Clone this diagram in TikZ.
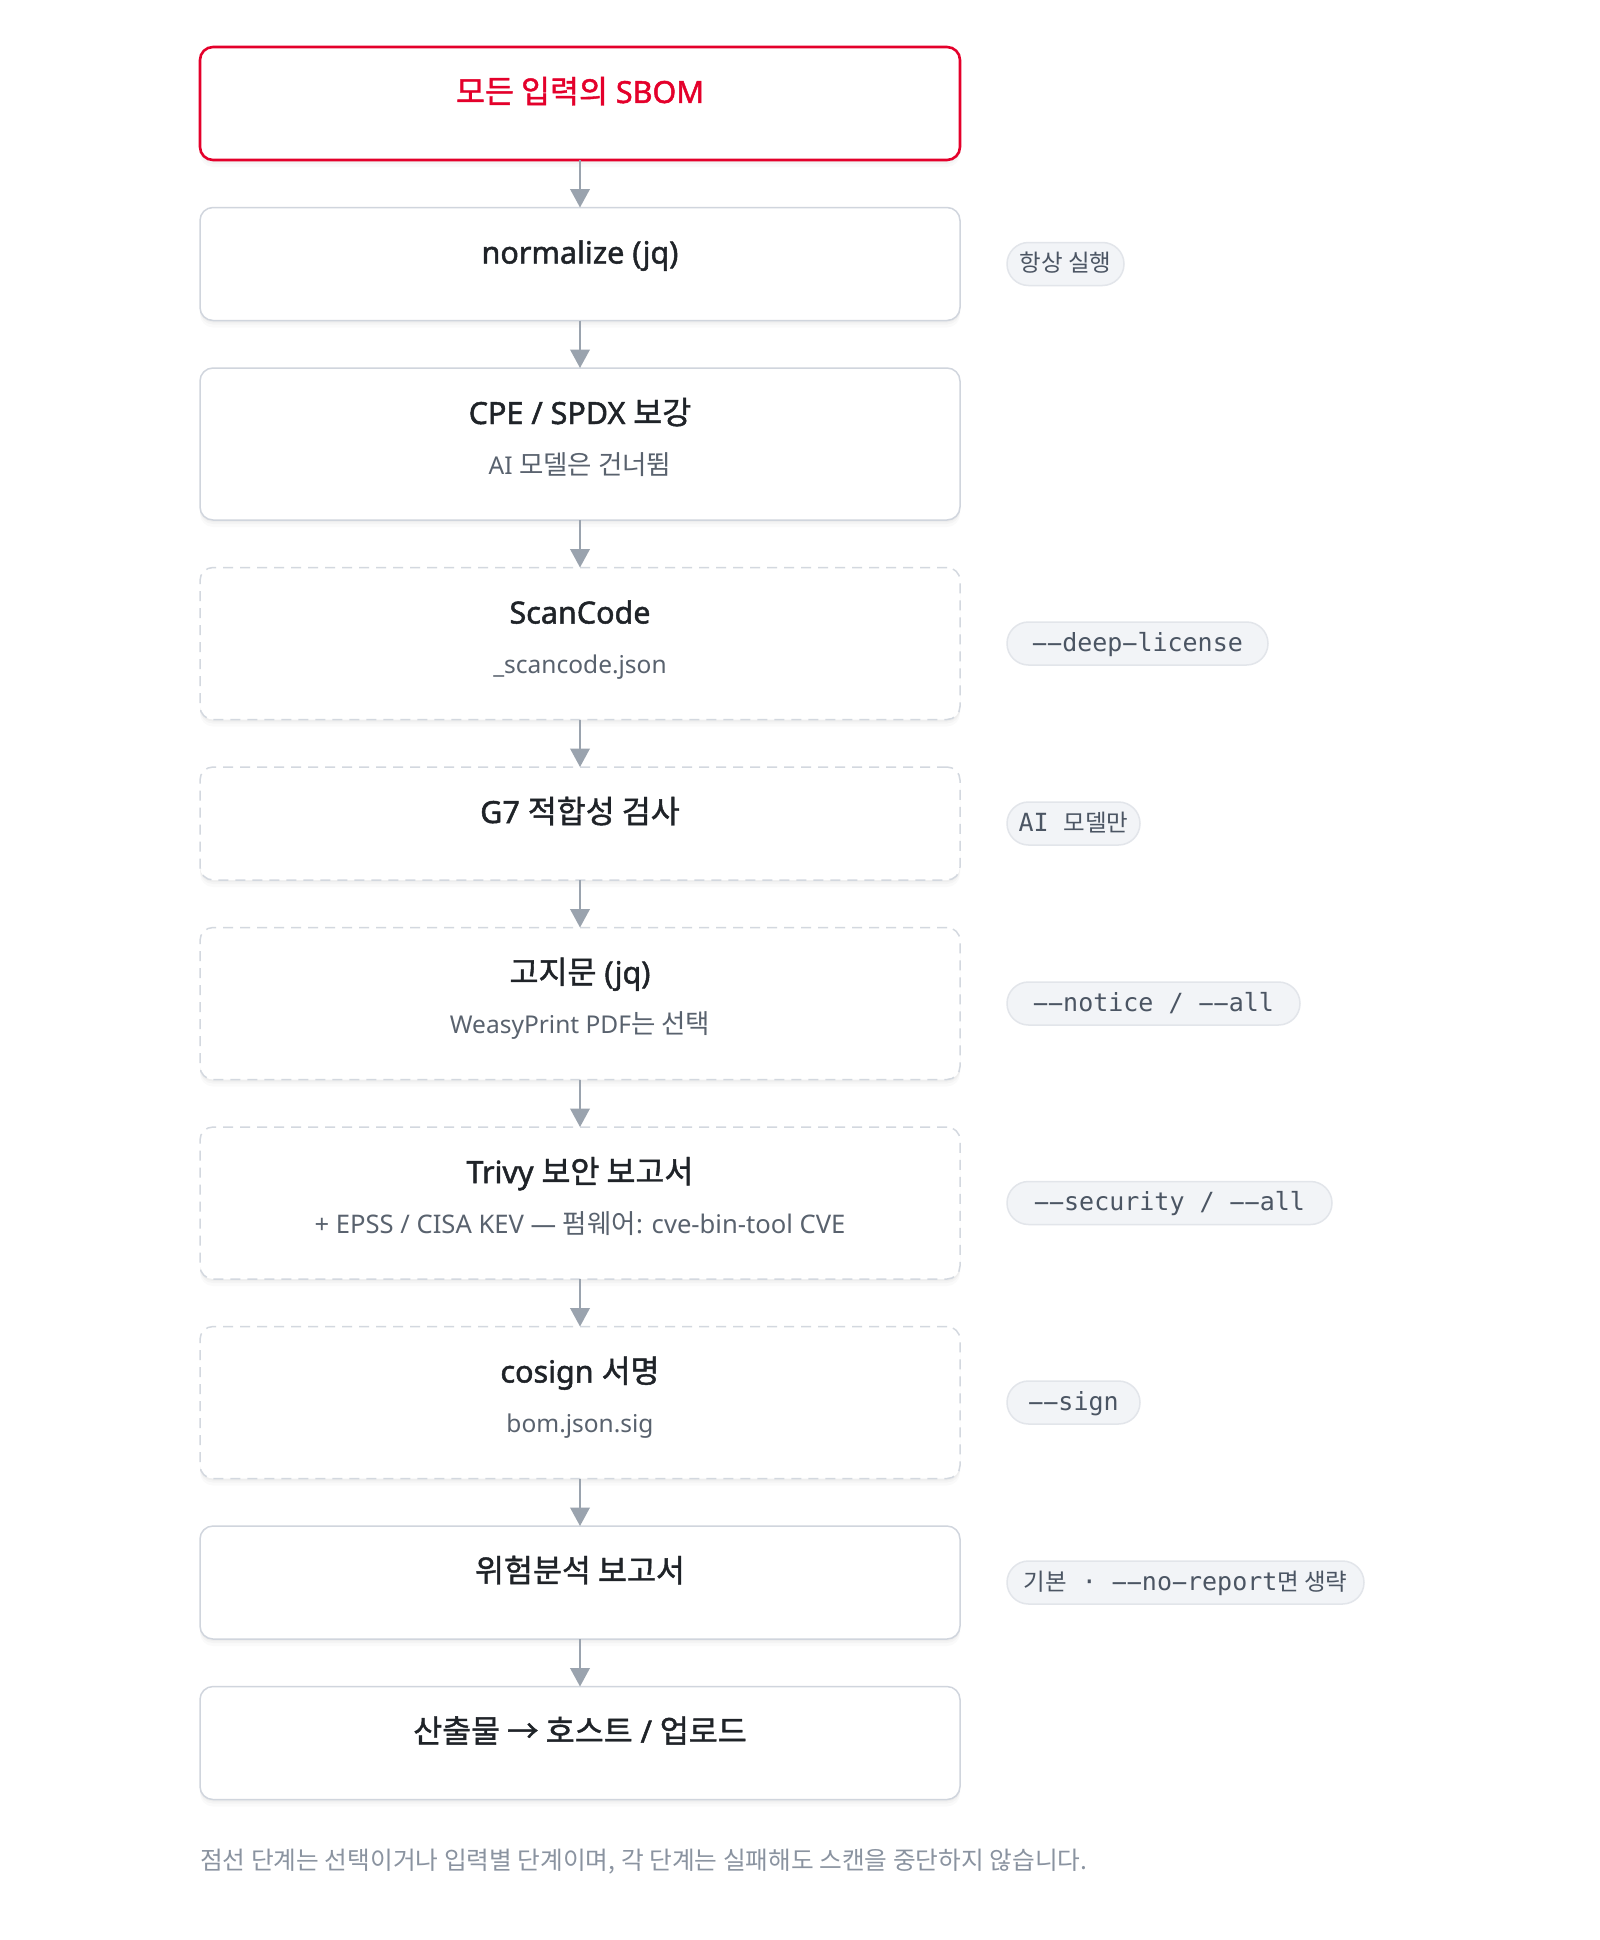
\documentclass[tikz,border=0pt]{standalone}
\usepackage{graphicx}
\usepackage{fontspec}
\setmainfont{Noto Sans}
\setmonofont{DejaVu Sans Mono}
\newfontfamily\krfont{Noto Sans CJK KR}
\newfontfamily\titlefont{Noto Sans}[FakeBold=1.6]
\newfontfamily\krtitle{Noto Sans CJK KR}[FakeBold=1.3]
\usetikzlibrary{arrows.meta}
\def\krswitch{\krfont}
\newcommand\krt[1]{{\krswitch #1}}
% monospaced hyphen drawn as the reference's full-cell dash
\newcommand\hy{\makebox[0.602em][c]{\scalebox{2.1}[1]{-}}}

\definecolor{accent}{HTML}{E4002B}
\definecolor{boxline}{HTML}{D0D5DD}
\definecolor{dashline}{HTML}{D3D8DF}
\definecolor{arrowc}{HTML}{9AA3AE}
\definecolor{titlec}{HTML}{1F2328}
\definecolor{subc}{HTML}{59626E}
\definecolor{pillfill}{HTML}{F2F4F7}
\definecolor{pillline}{HTML}{E2E5EA}
\definecolor{pilltext}{HTML}{4B5563}
\definecolor{footc}{HTML}{8A93A0}

\tikzset{
  shadowed/.style={
    preaction={draw=none, fill=black, fill opacity=0.025, transform canvas={yshift=-2pt}},
    preaction={draw=none, fill=black, fill opacity=0.025, transform canvas={yshift=-4pt}},
    preaction={draw=none, fill=black, fill opacity=0.02, transform canvas={yshift=-7pt}}},
  stepbox/.style={shadowed, draw=boxline, line width=1.5pt, fill=white,
    rounded corners=13pt, minimum width=760pt, inner sep=0pt, outer sep=0pt, anchor=north},
  optbox/.style={stepbox, draw=dashline, dash pattern=on 10pt off 7pt},
  topbox/.style={stepbox, draw=accent, line width=2.6pt},
  shortbox/.style={minimum height=113pt},
  tallbox/.style={minimum height=152pt},
  titletext/.style={anchor=base, inner sep=0pt, text=titlec,
    font=\titlefont\fontsize{30.5}{36}\selectfont\def\krswitch{\krtitle\fontsize{31.5}{36}\selectfont}},
  subtext/.style={anchor=base, inner sep=0pt, text=subc,
    font=\fontsize{24.5}{29}\selectfont\def\krswitch{\krfont\fontsize{26.5}{30}\selectfont}},
  widesub/.style={font=\fontsize{25.6}{30}\selectfont\def\krswitch{\krfont\fontsize{26.5}{30}\selectfont}},
  arr/.style={draw=arrowc, line width=2.2pt, -{Triangle[length=18.5pt, width=19.5pt]}},
  pill/.style={draw=pillline, line width=1.5pt, fill=pillfill, rounded corners=21.5pt,
    minimum height=43pt, inner sep=0pt, outer sep=0pt, anchor=west, text=pilltext,
    text height=20pt, text depth=5pt, align=center,
    font=\ttfamily\fontsize{25}{30}\selectfont\def\krswitch{\krfont\fontsize{23.5}{28}\selectfont}},
  pillsans/.style={pill, font=\krfont\fontsize{23.5}{28}\selectfont},
  foot/.style={anchor=base west, inner sep=0pt, text=footc,
    font=\krfont\fontsize{24.7}{29}\selectfont}
}

\begin{document}
\begin{tikzpicture}[x=1pt, y=-1pt]
\fill[white] (0,0) rectangle (1600,1940);
\useasboundingbox (0,0) rectangle (1600,1940);

% boxes
\node[topbox, shortbox] (b1) at (580,47) {};
\node[stepbox, shortbox] (b2) at (580,207.5) {};
\node[stepbox, tallbox] (b3) at (580,368) {};
\node[optbox, tallbox] (b4) at (580,567.5) {};
\node[optbox, shortbox] (b5) at (580,767) {};
\node[optbox, tallbox] (b6) at (580,927.5) {};
\node[optbox, tallbox] (b7) at (580,1127) {};
\node[optbox, tallbox] (b8) at (580,1326.5) {};
\node[stepbox, shortbox] (b9) at (580,1526) {};
\node[stepbox, shortbox] (b10) at (580,1686.5) {};

% titles
\node[titletext, text=accent] (t1) at ([yshift=-56pt]b1.north) {\krt{모든 입력의} SBOM};
\node[titletext] (t2) at ([yshift=-56pt]b2.north) {normalize (jq)};
\node[titletext] (t3) at ([yshift=-56pt]b3.north) {CPE / SPDX \krt{보강}};
\node[subtext] (s3) at ([yshift=-106pt]b3.north) {AI \krt{모델은 건너뜀}};
\node[titletext] (t4) at ([yshift=-56pt]b4.north) {ScanCode};
\node[subtext] (s4) at ([yshift=-106pt]b4.north) {\_scancode.json};
\node[titletext] (t5) at ([yshift=-56pt]b5.north) {G7 \krt{적합성 검사}};
\node[titletext] (t6) at ([yshift=-56pt]b6.north) {\krt{고지문} (jq)};
\node[subtext] (s6) at ([yshift=-106pt]b6.north) {WeasyPrint PDF\krt{는 선택}};
\node[titletext] (t7) at ([yshift=-56pt]b7.north) {Trivy \krt{보안 보고서}};
\node[subtext, widesub] (s7) at ([yshift=-106pt]b7.north) {+ EPSS / CISA KEV — \krt{펌웨어}: cve-bin-tool CVE};
\node[titletext] (t8) at ([yshift=-56pt]b8.north) {cosign \krt{서명}};
\node[subtext] (s8) at ([yshift=-106pt]b8.north) {bom.json.sig};
\node[titletext] (t9) at ([yshift=-56pt]b9.north) {\krt{위험분석 보고서}};
\node[titletext] (t10) at ([yshift=-56pt]b10.north) {\krt{산출물 → 호스트} / \krt{업로드}};

% connectors
\draw[arr] (b1.south) -- (b2.north);
\draw[arr] (b2.south) -- (b3.north);
\draw[arr] (b3.south) -- (b4.north);
\draw[arr] (b4.south) -- (b5.north);
\draw[arr] (b5.south) -- (b6.north);
\draw[arr] (b6.south) -- (b7.north);
\draw[arr] (b7.south) -- (b8.north);
\draw[arr] (b8.south) -- (b9.north);
\draw[arr] (b9.south) -- (b10.north);

% side pills
\node[pillsans, minimum width=117pt] (p2) at ([xshift=47pt]b2.east) {항상 실행};
\node[pill, minimum width=261pt] (p4) at ([xshift=47pt]b4.east) {\hy\hy deep\hy license};
\node[pill, minimum width=133pt] (p5) at ([xshift=47pt]b5.east) {AI \krt{모델만}};
\node[pill, minimum width=293pt] (p6) at ([xshift=47pt]b6.east) {\hy\hy notice / \hy\hy all};
\node[pill, minimum width=325pt] (p7) at ([xshift=47pt]b7.east) {\hy\hy security / \hy\hy all};
\node[pill, minimum width=133pt] (p8) at ([xshift=47pt]b8.east) {\hy\hy sign};
\node[pill, minimum width=357pt] (p9) at ([xshift=47pt]b9.east) {\krt{기본} · \hy\hy no\hy report\krt{면 생략}};

% footer
\node[foot] (note) at (200,1869) {점선 단계는 선택이거나 입력별 단계이며, 각 단계는 실패해도 스캔을 중단하지 않습니다.};
\end{tikzpicture}
\end{document}
